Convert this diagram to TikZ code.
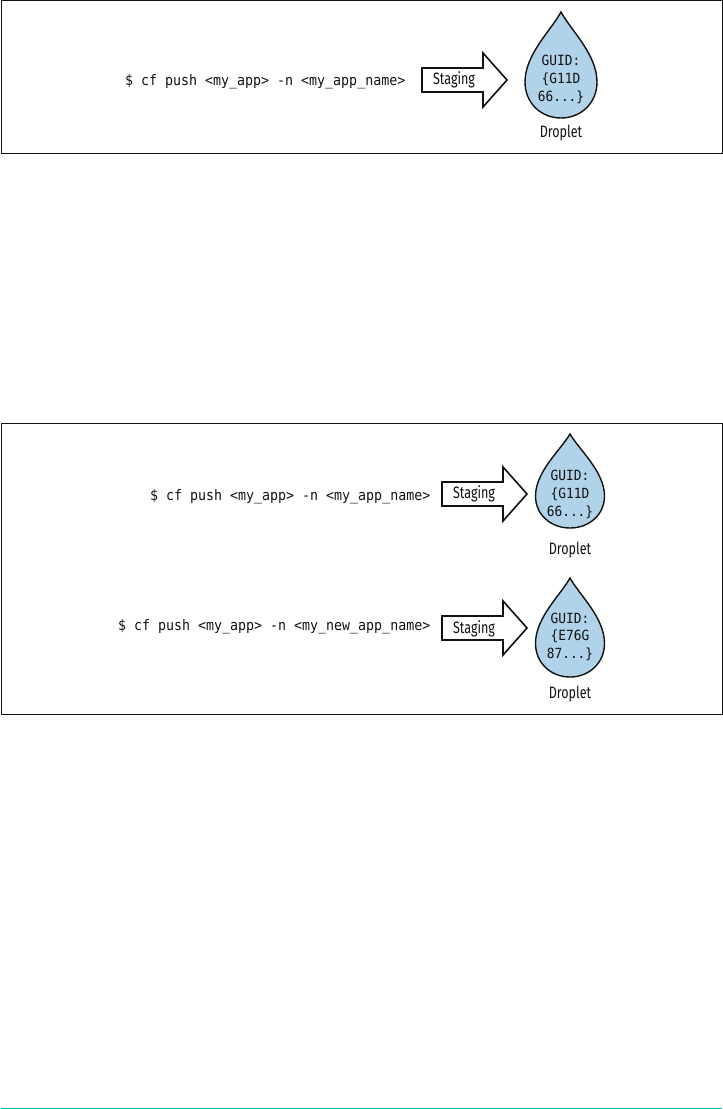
\documentclass[tikz,border=0pt]{standalone}
\usepackage{fontspec}
\setmainfont{Fira Sans}[FakeStretch=0.76]
\setmonofont{DejaVu Sans Mono}[FakeStretch=0.917]
\definecolor{dropblue}{HTML}{B1D3E9}
\definecolor{tealrule}{HTML}{00AFA5}
\definecolor{ink}{HTML}{111111}
\tikzset{
  framebox/.style={draw=ink,line width=1pt},
  cmdtext/.style={anchor=east,inner sep=0pt,text=ink,font=\ttfamily\fontsize{14.5}{16}\selectfont},
  guidtext/.style={inner sep=0pt,text=ink,font=\ttfamily\fontsize{14}{16}\selectfont},
  labeltext/.style={inner sep=0pt,text=ink,font=\fontsize{16.5}{18}\selectfont},
  dropshape/.style={draw=ink,fill=dropblue,line width=1.4pt,line join=miter},
  arrowshape/.style={draw=ink,fill=white,line width=1.6pt,line join=miter}
}
% #1 x of tail, #2 y of centre, #3 head base x, #4 tip x, #5 half tail, #6 half head
\newcommand{\bigarrow}[6]{%
  \draw[arrowshape] (#1,#2-#5) -- (#3,#2-#5) -- (#3,#2-#6) -- (#4,#2) -- (#3,#2+#6) -- (#3,#2+#5) -- (#1,#2+#5) -- cycle;}
% #1 tip x, #2 tip y, #3 half width, #4 height
\newcommand{\waterdrop}[4]{%
  \draw[dropshape] (#1,#2) .. controls (#1+0.27*#3,#2+0.17*#4) and (#1+#3,#2+0.40*#4) .. (#1+#3,#2+0.66*#4)
     .. controls (#1+#3,#2+0.86*#4) and (#1+0.55*#3,#2+#4) .. (#1,#2+#4)
     .. controls (#1-0.55*#3,#2+#4) and (#1-#3,#2+0.86*#4) .. (#1-#3,#2+0.66*#4)
     .. controls (#1-#3,#2+0.40*#4) and (#1-0.27*#3,#2+0.17*#4) .. (#1,#2) -- cycle;}
\begin{document}
\begin{tikzpicture}[x=1pt,y=-1pt]
\useasboundingbox (0,0) rectangle (723,1109);
% top panel
\draw[framebox] (1,0.5) rectangle (722,153);
\node[cmdtext] (cmdA) at (405.5,81.5) {\$ cf push <my\_app> -n <my\_app\_name>};
\bigarrow{422}{80}{483}{507}{12}{27}
\node[labeltext] (stagingA) at (454,80) {Staging};
\waterdrop{561}{12}{36}{106}
\node[guidtext] (guidA1) at (561,60.5) {GUID:};
\node[guidtext] (guidA2) at (561,79) {\{G11D};
\node[guidtext] (guidA3) at (561,97) {66...\}};
\node[labeltext] (dropA) at (561,133) {Droplet};
% bottom panel
\draw[framebox] (1,423.5) rectangle (722,714);
\node[cmdtext] (cmdB) at (430.5,496.5) {\$ cf push <my\_app> -n <my\_app\_name>};
\bigarrow{442}{494}{503}{527}{12}{27}
\node[labeltext] (stagingB) at (474,494) {Staging};
\waterdrop{570}{434}{34.5}{94}
\node[guidtext] (guidB1) at (570,475.5) {GUID:};
\node[guidtext] (guidB2) at (570,494) {\{G11D};
\node[guidtext] (guidB3) at (570,512) {66...\}};
\node[labeltext] (dropB) at (570,550) {Droplet};
\node[cmdtext] (cmdC) at (430.5,626.5) {\$ cf push <my\_app> -n <my\_new\_app\_name>};
\bigarrow{442}{628}{503}{527}{12}{27}
\node[labeltext] (stagingC) at (474,629) {Staging};
\waterdrop{570}{578}{34.5}{99}
\node[guidtext] (guidC1) at (570,618.5) {GUID:};
\node[guidtext] (guidC2) at (570,636) {\{E76G};
\node[guidtext] (guidC3) at (570,654) {87...\}};
\node[labeltext] (dropC) at (570,694) {Droplet};
% bottom rule
\draw[tealrule,line width=1pt] (1,1108) -- (722,1108);
\end{tikzpicture}
\end{document}
